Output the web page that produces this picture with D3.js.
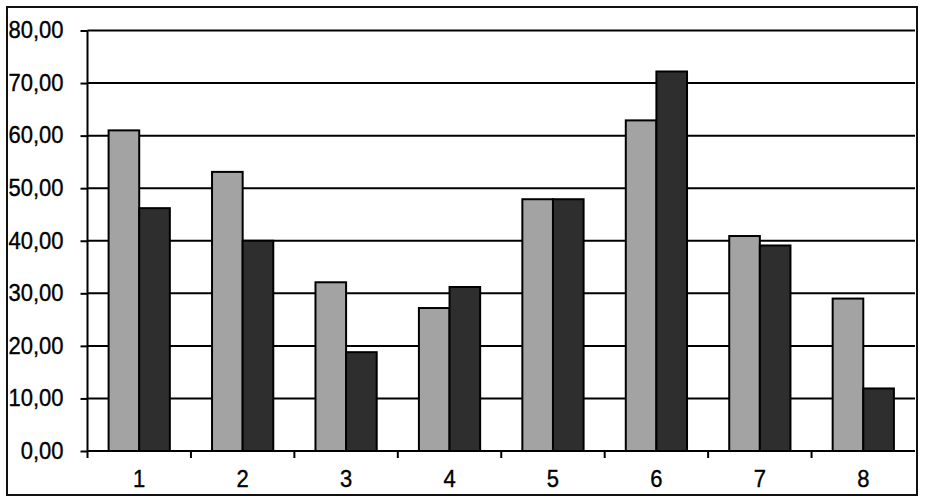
<!DOCTYPE html>
<html><head><meta charset="utf-8">
<script src="https://cdn.jsdelivr.net/npm/d3@7"></script>
<style>body{margin:0;background:#fff}svg{display:block}</style>
</head><body>
<script>
const categories = ["1","2","3","4","5","6","7","8"];
const seriesA = [61.0, 53.1, 32.1, 27.2, 47.9, 62.9, 40.9, 29.0];
const seriesB = [46.2, 40.0, 18.8, 31.2, 47.9, 72.2, 39.1, 11.9];
const yTicks = [0,10,20,30,40,50,60,70,80];

const W = 927, H = 501;
const m = {left: 87.5, right: 927-915, top: 30.5, bottom: 501-451};
const svg = d3.select("body").append("svg").attr("width", W).attr("height", H);

svg.append("rect").attr("x", 7).attr("y", 7).attr("width", 910).attr("height", 488)
  .attr("fill", "none").attr("stroke", "#111").attr("stroke-width", 2);

const x = d3.scaleBand().domain(categories).range([m.left, W - m.right]);
const y = d3.scaleLinear().domain([0, 80]).range([H - m.bottom, m.top]);
const fmt = v => d3.format(".2f")(v).replace(".", ",");

// gridlines
svg.append("g").selectAll("line").data(yTicks.filter(d => d > 0)).join("line")
  .attr("x1", m.left).attr("x2", W - m.right)
  .attr("y1", d => y(d)).attr("y2", d => y(d))
  .attr("stroke", "#000").attr("stroke-width", 2);

const bw = x.bandwidth() * 0.296;
const g = svg.append("g");
categories.forEach((c, i) => {
  const cx = x(c) + x.bandwidth() / 2;
  g.append("rect").attr("x", cx - bw).attr("y", y(seriesA[i])).attr("width", bw)
    .attr("height", y(0) - y(seriesA[i])).attr("fill", "#a3a3a3").attr("stroke", "#000").attr("stroke-width", 2);
  g.append("rect").attr("x", cx).attr("y", y(seriesB[i])).attr("width", bw)
    .attr("height", y(0) - y(seriesB[i])).attr("fill", "#2e2e2e").attr("stroke", "#000").attr("stroke-width", 2);
});

const styleText = sel => sel.attr("font-family", "Liberation Sans, Arial, sans-serif")
  .attr("font-size", 22).attr("fill", "#000").attr("stroke", "#000").attr("stroke-width", 0.35)
  .attr("transform", "scale(1,1.1)");

// y axis
const ya = svg.append("g").attr("transform", `translate(${m.left},0)`)
  .call(d3.axisLeft(y).tickValues(yTicks).tickFormat(fmt).tickSize(7).tickPadding(17));
ya.select(".domain").attr("stroke", "#000").attr("stroke-width", 2).attr("d", `M0,${y(80)}V${y(0)}`);
ya.selectAll(".tick line").attr("stroke", "#000").attr("stroke-width", 2);
ya.selectAll("text").call(styleText).attr("dy", "0.3em");

// x axis
const xa = svg.append("g").attr("transform", `translate(0,${y(0)})`)
  .call(d3.axisBottom(x).tickSize(0).tickPadding(17));
xa.select(".domain").attr("stroke", "#000").attr("stroke-width", 2).attr("d", `M${m.left},0H${W - m.right}`);
xa.selectAll("text").call(styleText);
// boundary ticks
svg.append("g").selectAll("line").data(categories).join("line")
  .attr("x1", d => x(d)).attr("x2", d => x(d))
  .attr("y1", y(0)).attr("y2", y(0) + 7)
  .attr("stroke", "#000").attr("stroke-width", 2);
</script>
</body></html>
